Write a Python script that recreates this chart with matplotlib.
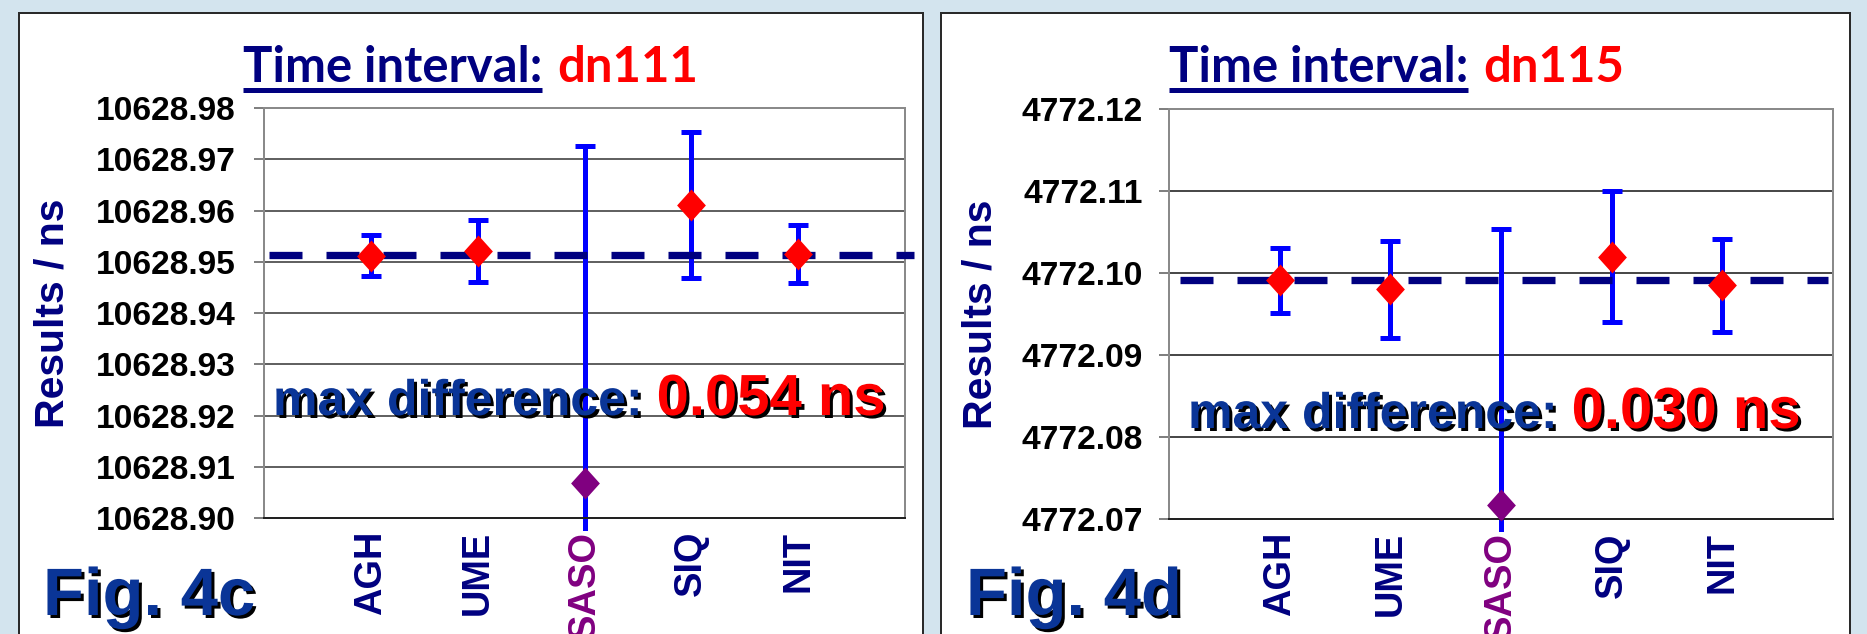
import numpy as np
import matplotlib
matplotlib.use("Agg")
import matplotlib.pyplot as plt
from matplotlib.path import Path
from matplotlib.patches import Rectangle
import matplotlib.patheffects as pe

plt.rcParams['lines.scale_dashes'] = False

# ---------------- data ----------------
labs = ["AGH", "UME", "SASO", "SIQ", "NIT"]

c_vals = [10628.9512, 10628.9521, 10628.9069, 10628.9611, 10628.9515]
c_err = [0.0040, 0.0060, 0.0657, 0.0142, 0.0057]
c_mean = 10628.9514
c_ticks = [10628.90, 10628.91, 10628.92, 10628.93, 10628.94,
           10628.95, 10628.96, 10628.97, 10628.98]
c_name = "dn111"
c_diff = "0.054 ns"
c_fig = "Fig. 4c"

d_vals = [4772.0991, 4772.0980, 4772.0717, 4772.1020, 4772.0985]
d_err = [0.0040, 0.0059, 0.0337, 0.0080, 0.0057]
d_mean = 4772.0992
d_ticks = [4772.07, 4772.08, 4772.09, 4772.10, 4772.11, 4772.12]
d_name = "dn115"
d_diff = "0.030 ns"
d_fig = "Fig. 4d"

# ---------------- figure ----------------
W, H = 1867, 634
DPI = 72
fig = plt.figure(figsize=(W / DPI, H / DPI), dpi=DPI)
fig.patch.set_facecolor('#d3e4ee')

NAVY = '#000080'
RED = '#ff0000'
PURPLE = '#800080'
BLUE = '#0000ff'
FIGBLUE = '#0a3597'
ARIAL = 'Liberation Sans'

def fx(x):
    return x / W

def fy(y):
    return 1 - y / H

# white panels
for (x0, x1) in [(19, 923), (941, 1850)]:
    fig.add_artist(Rectangle((fx(x0), -0.1), fx(x1 - x0), fy(13) + 0.1,
                             transform=fig.transFigure, facecolor='white',
                             edgecolor='#2a2a2a', lw=2, zorder=0))

diamond = Path([(0, 1), (0.9, 0), (0, -1), (-0.9, 0), (0, 1)],
               [Path.MOVETO, Path.LINETO, Path.LINETO, Path.LINETO, Path.CLOSEPOLY])

shadow = [pe.withSimplePatchShadow(offset=(3, -3), shadow_rgbFace='black', alpha=1.0)]


def panel(ax_px, vals, err, mean, ticks, name, diff, figlab, title_x, ylab_xy,
          diff_xy, fig_xy, dash_span, ypad, gridcol):
    x0, x1, ytop, ybot = ax_px
    ax = fig.add_axes([fx(x0), fy(ybot), fx(x1 - x0), (ybot - ytop) / H])
    ax.set_facecolor('white')
    n = len(labs)
    pos = np.arange(1, n + 1)
    ax.set_xlim(0, n + 1)
    ax.set_ylim(ticks[0], ticks[-1])
    ax.set_yticks(ticks)
    ax.set_yticklabels(["%.2f" % t for t in ticks], fontfamily=ARIAL,
                       fontweight='bold', fontsize=33.5, color='black')
    ax.yaxis.grid(True, color=gridcol, lw=1.6)
    ax.tick_params(axis='y', length=10, width=2, color='#808080',
                   direction='out', pad=ypad)
    ax.set_xticks(pos)
    ax.set_xticklabels(labs, rotation=90, fontfamily=ARIAL,
                       fontweight='bold', fontsize=38)
    ax.tick_params(axis='x', length=0, pad=13)
    for i, tl in enumerate(ax.get_xticklabels()):
        tl.set_color(PURPLE if labs[i] == "SASO" else NAVY)
        if labs[i] == "SASO":
            tl.set_bbox(dict(facecolor='white', edgecolor='none', pad=0))
    ax.xaxis.set_zorder(3)
    for s in ['left', 'top', 'right']:
        ax.spines[s].set_color('#8a8a8a')
        ax.spines[s].set_linewidth(2)
    ax.spines['bottom'].set_color('#222222')
    ax.spines['bottom'].set_linewidth(2)

    eb = ax.errorbar(pos, vals, yerr=err, fmt='none', ecolor=BLUE,
                     elinewidth=5, capsize=10, capthick=5, zorder=2)
    for ch in eb.get_children():
        ch.set_clip_on(False)
    ax.axhline(mean, xmin=dash_span[0], xmax=dash_span[1], color=NAVY, lw=7.3,
               dashes=(33, 24), clip_on=False, zorder=3)
    cols = [PURPLE if l == "SASO" else RED for l in labs]
    for p, v, c in zip(pos, vals, cols):
        ax.plot([p], [v], ls='none', marker=diamond, ms=32, color=c,
                mec='none', zorder=4, clip_on=False)

    # title
    r = fig.canvas.get_renderer()
    t1 = fig.text(fx(title_x), fy(82), "Time interval:", fontfamily='Lato',
                  fontweight='bold', fontsize=49, color=NAVY, va='baseline')
    bb = t1.get_window_extent(r)
    fig.text((bb.x1 + 15) / W, fy(82), name, fontfamily='Lato',
             fontweight='bold', fontsize=49, color=RED, va='baseline')
    fig.add_artist(plt.Line2D([fx(title_x), bb.x1 / W], [fy(90), fy(90)],
                              transform=fig.transFigure, color=NAVY, lw=5,
                              solid_capstyle='butt'))
    # y label
    fig.text(fx(ylab_xy[0]), fy(ylab_xy[1]), "Results / ns", rotation=90,
             ha='center', va='center', fontfamily=ARIAL, fontweight='bold',
             fontsize=41, color=NAVY)
    # max difference
    m1 = fig.text(fx(diff_xy[0]), fy(diff_xy[1]), "max difference:",
                  fontfamily=ARIAL, fontweight='bold', fontsize=50,
                  color=FIGBLUE, va='baseline', path_effects=shadow, zorder=6)
    mb = m1.get_window_extent(r)
    fig.text((mb.x1 + 14) / W, fy(diff_xy[1]), diff, fontfamily=ARIAL,
             fontweight='bold', fontsize=58, color=RED, va='baseline',
             path_effects=shadow, zorder=6)
    # fig label
    fig.text(fx(fig_xy[0]), fy(fig_xy[1]), figlab, fontfamily=ARIAL,
             fontweight='bold', fontsize=67, color=FIGBLUE, va='baseline',
             path_effects=shadow, zorder=6)
    return ax


panel((264, 905, 108, 518), c_vals, c_err, c_mean, c_ticks, c_name, c_diff,
      c_fig, 243, (53, 313), (273, 415), (43, 615), (0.008, 1.014), 18,
      '#3c3c3c')
panel((1169, 1833, 109, 519), d_vals, d_err, d_mean, d_ticks, d_name, d_diff,
      d_fig, 1169, (980, 314), (1188, 428), (966, 615), (0.017, 0.993), 16,
      '#1e1e1e')

fig.savefig("out.png", dpi=DPI, facecolor=fig.get_facecolor())
